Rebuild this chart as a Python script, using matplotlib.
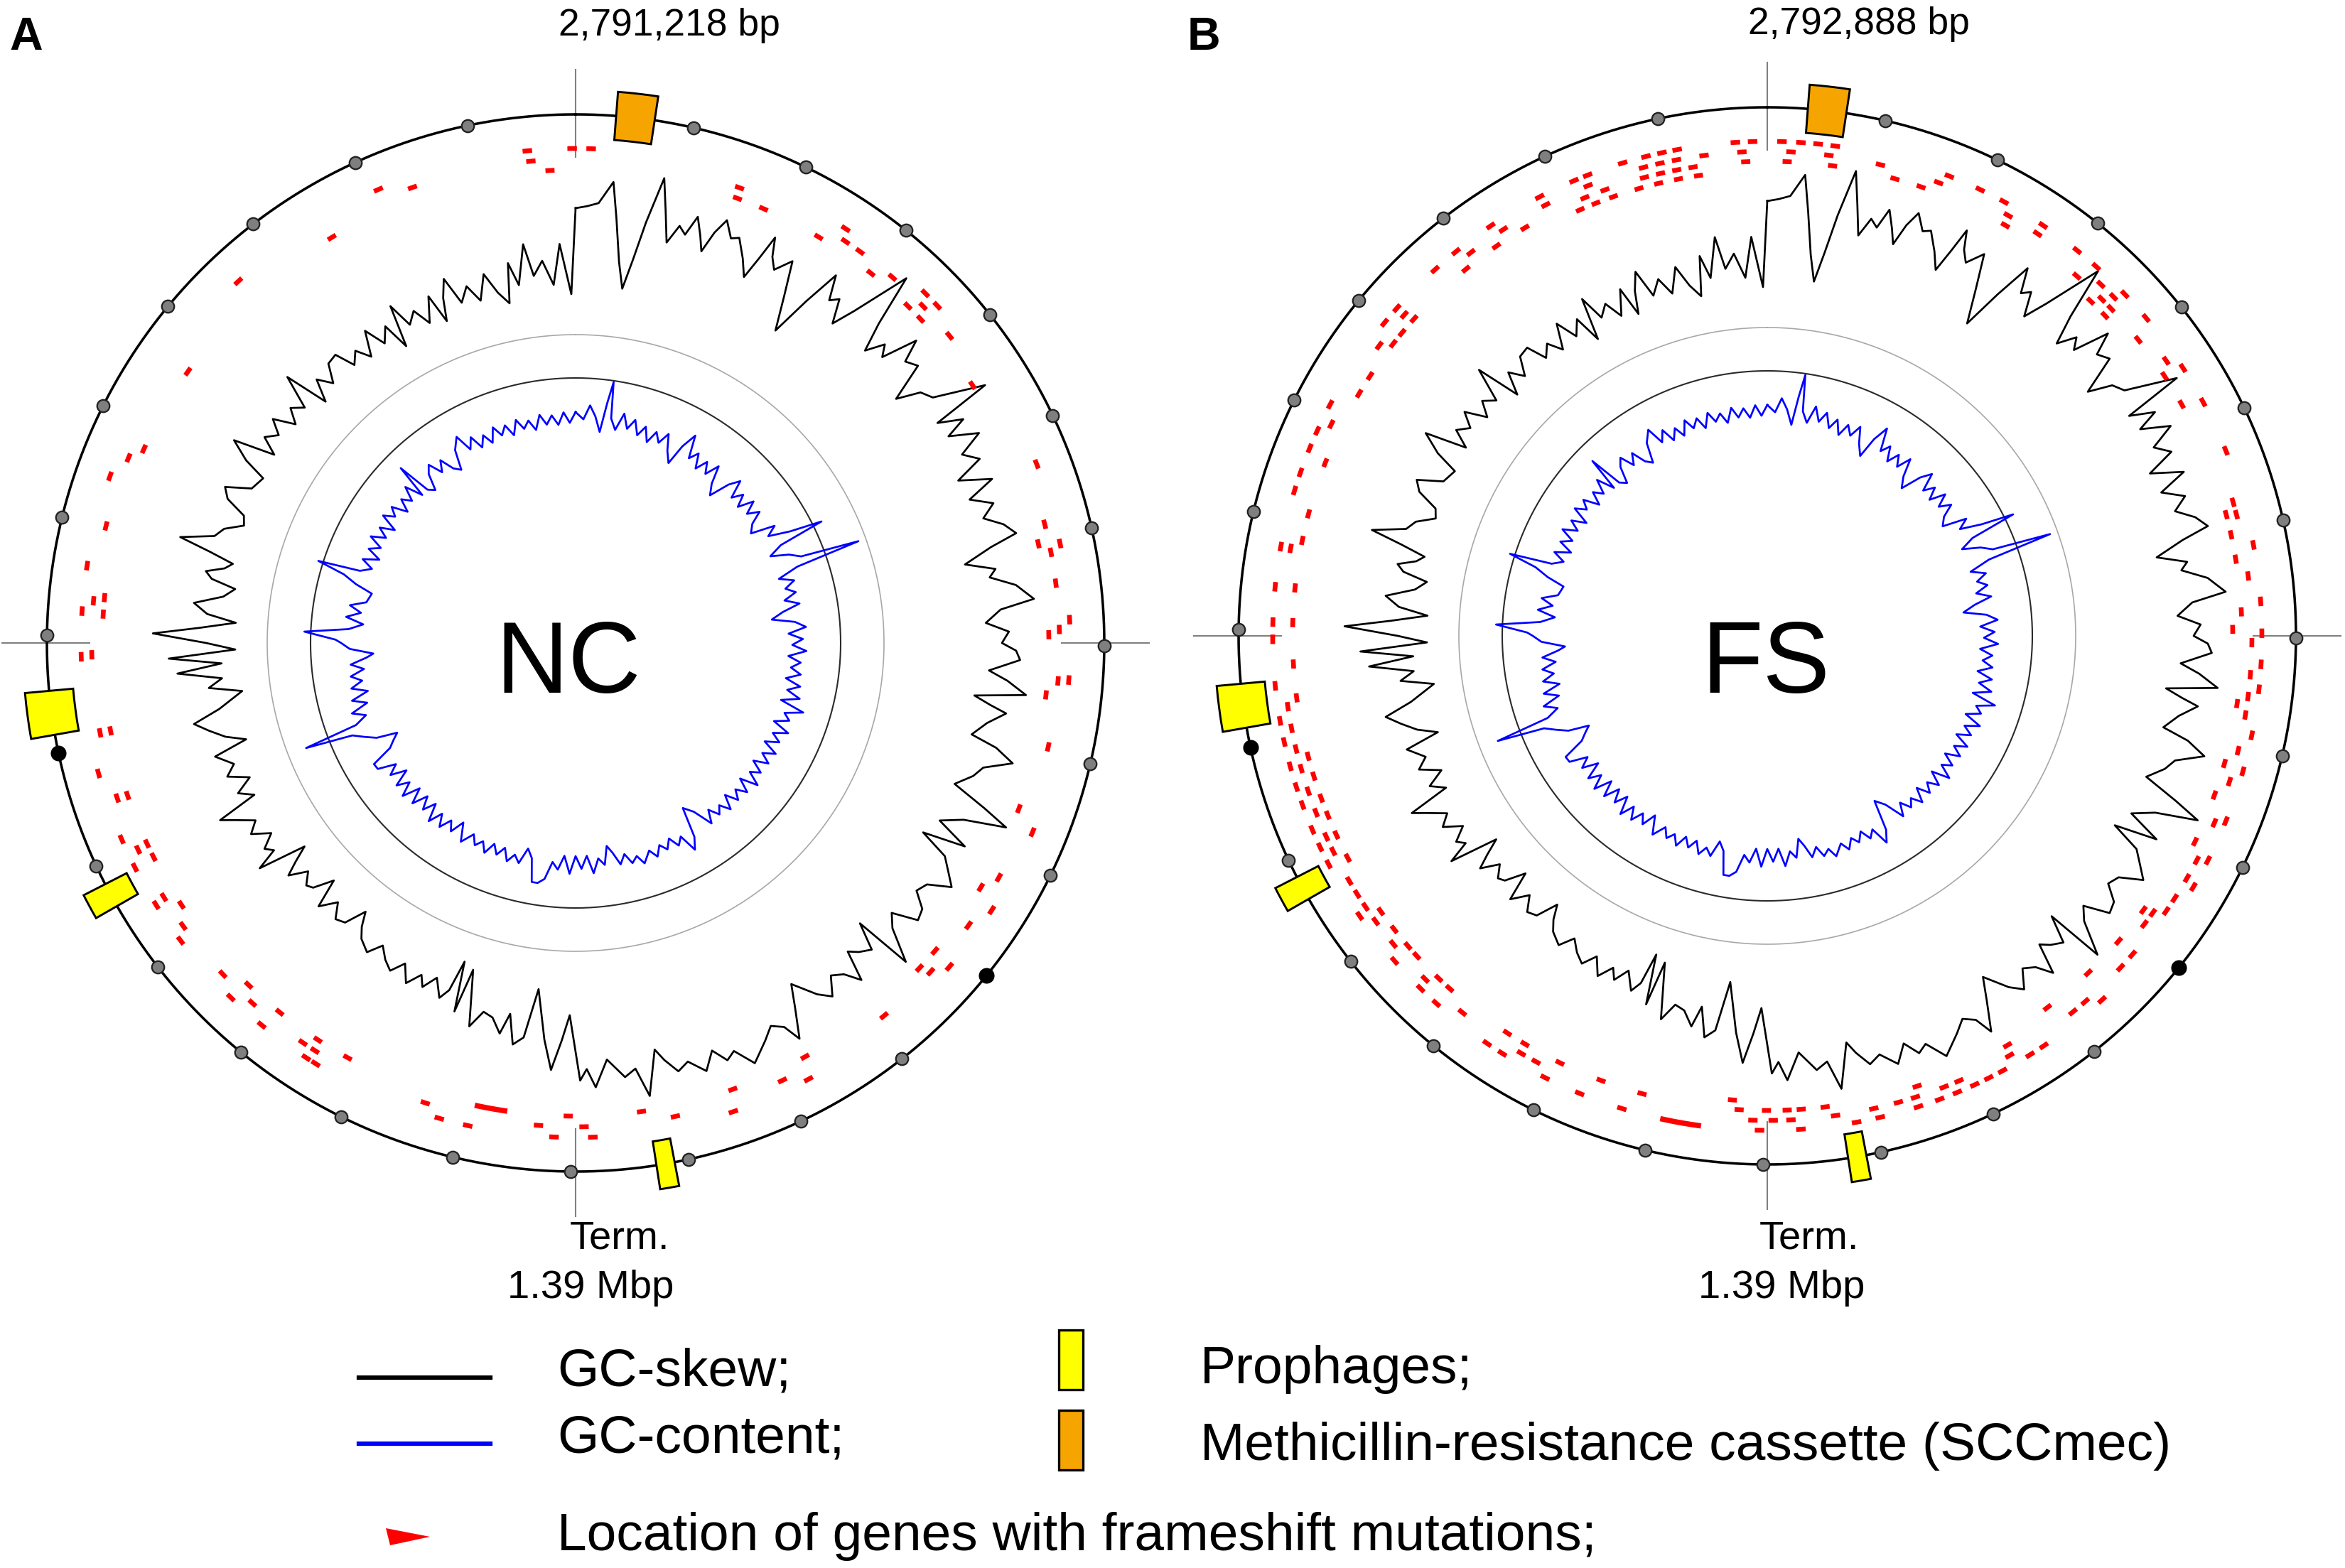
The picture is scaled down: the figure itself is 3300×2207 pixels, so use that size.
import numpy as np
import matplotlib.pyplot as plt
from matplotlib.patches import Rectangle, Polygon

plt.rcParams['font.family'] = ['Liberation Sans', 'DejaVu Sans']

W, H, DPI = 3300, 2207, 300

# genome sizes (kb) and the 100 kb tick marks, 1 Mb / 2 Mb drawn black
genome_A_kb = 2791.218
genome_B_kb = 2792.888
tick_step_kb = 100
major_ticks_kb = [1000, 2000]

# GC-skew: position (deg clockwise from top) and value (track units)
skew_deg = [0, 1.5, 3, 4.7, 5.5, 6.5, 7.5, 8.5, 9.5, 10.8,
            11.8, 12.8, 14, 15, 16, 17, 17.8, 18.7, 19.7, 21,
            22, 23.5, 24.7, 25.5, 26.2, 27, 28, 29.6, 31, 32.6,
            34, 35.3, 36.5, 37.5, 38.8, 40, 42.2, 43.5, 44.7, 46,
            47, 48.4, 49.5, 51, 52.7, 54, 55.5, 57.8, 58.7, 60,
            61, 62.5, 64, 65.5, 67, 68.5, 70, 71.5, 73, 74.5,
            76, 77, 78.6, 80, 81, 82.5, 84.5, 85.5, 87.2, 88.5,
            90, 91, 92.2, 93.8, 95, 96.6, 97.5, 98.5, 99.3, 101,
            103, 104, 105.4, 107, 108.5, 110.4, 112, 113.2, 114.5, 116,
            117.6, 118.6, 120, 121.5, 123, 124.5, 126, 127.5, 129, 130.5,
            132, 134, 134.6, 136, 137.5, 138.6, 139.7, 141, 142.5, 144,
            145.5, 147.7, 149, 150.5, 151.5, 153, 154.5, 156.9, 158.8, 160,
            161.5, 163, 165, 166.5, 168, 169, 170.7, 172, 173.5, 175.7,
            177.4, 178.5, 179.4, 180.9, 182, 183.3, 184.5, 186.1, 187.5, 188.9,
            190, 191, 192.5, 194, 195.5, 197.4, 198.2, 199.2, 200, 201,
            202.5, 204, 204.9, 206.5, 208, 209.5, 211, 212.5, 214, 215.9,
            217, 218, 219.5, 221, 222.5, 224.3, 225.5, 227, 228, 229.5,
            231, 232, 233.1, 234.5, 235.5, 236.5, 238, 239.5, 241, 242.5,
            243.5, 244.7, 246, 247.6, 249, 250.5, 252.5, 253.7, 255, 256.5,
            258, 259.5, 261.8, 263, 264.3, 265.6, 266.7, 267.8, 268.9, 270,
            271.3, 272.3, 273.4, 274.5, 276, 277.5, 279, 280, 281, 282,
            283, 284, 285, 286.5, 288, 289.5, 291, 292.5, 294, 295.5,
            297.8, 299, 300.7, 302, 303.5, 305, 306.5, 308, 309.5, 311,
            312.7, 314, 315.5, 317, 318.5, 320.2, 321.5, 323, 324.5, 326,
            327.5, 329, 330.3, 331.2, 332.5, 334, 335.5, 337, 338.2, 339,
            340.1, 341.5, 343, 344.5, 346, 347.5, 349, 349.9, 351, 352.5,
            353.5, 355, 356.5, 357.7, 359.3]
skew_val = [52, 55, 60, 91, 40, -20, -57, -15, 40, 106,
            60, 18, 45, 35, 64, 40, 19, 50, 72, 50,
            55, 30, 7, 40, 76, 50, 35, 58, 10, -38,
            20, 74, 40, 50, 17, 50, 133, 60, 19, 45,
            30, 81, 50, 60, 7, 40, 50, 121, 36, 70,
            40, 80, 45, 65, 25, 70, 30, 60, 40, 65,
            79, 40, -1, 40, 30, 65, 88, 40, 18, 50,
            40, 60, 66, 23, 50, 78, 6, 30, 54, 30,
            12, 50, 78, 40, 30, 9, 60, 99, 40, 10,
            58, -3, 40, 55, 71, 40, 33, 55, 60, 25,
            40, 86, 2, 40, 30, 19, 62, 40, 30, 55,
            40, 8, 40, 80, 55, 45, 60, 83, 56, 65,
            45, 70, 50, 60, 40, 23, 86, 45, 55, 28,
            66, 40, 56, -36, 0, 42, 0, -70, 0, 12,
            -30, 0, -20, -25, 0, -78, -14, -85, -40, -25,
            -50, -30, -45, -25, -49, -30, -40, -55, -35, -46,
            -60, -80, -50, -45, -65, -42, -83, -55, -50, -65,
            -40, -60, -83, -14, -45, -35, -55, -30, -45, -20,
            -1, -60, -40, -64, -35, -50, -28, -77, -50, -30,
            -11, -50, -86, -40, -60, 2, -61, 13, -81, -40,
            35, -30, -81, -40, -20, -60, -75, -40, -30, -55,
            -65, -30, 16, -30, -40, -65, -60, -30, -20, -55,
            -63, -30, -1, -60, -35, -50, -30, -60, -40, -55,
            -8, -71, -40, -60, -35, -32, -60, -45, -65, -30,
            -60, -40, -79, -19, -55, -40, -65, -30, -72, -40,
            -15, -55, -35, -60, -25, -55, -73, -17, -50, 6,
            -40, -20, -55, 2, -69]

# GC-content, same way
gc_deg = [0, 2, 3.5, 5, 6.5, 7.5, 8.3, 9, 10.5, 12,
          13.5, 15, 16.5, 18, 19.5, 21, 22.5, 24, 25.5, 27.3,
          28.5, 30, 31.5, 33, 34.5, 36, 37.5, 39, 40.5, 42.3,
          44, 45.5, 47, 48.5, 50, 51.5, 53, 54.5, 56, 58,
          59.5, 61, 62.5, 63.7, 64.5, 66, 67.5, 69, 70.2, 71,
          72.5, 74, 75.5, 77, 78.5, 80, 81.5, 83.2, 84.5, 86,
          87.5, 89, 90.5, 92, 93.5, 95, 96.5, 98, 99.5, 101,
          102.5, 104, 105.5, 107, 108.5, 110, 111.5, 113, 114.5, 116,
          117.5, 119, 120.5, 122, 123.5, 125, 126.5, 128, 129.5, 131,
          132.5, 134, 135.5, 137, 138.5, 140, 141.5, 143, 145, 147,
          148.5, 150, 151.5, 153, 154.5, 156, 157.5, 159, 160.5, 162.6,
          164, 165.5, 167, 168.5, 170, 171.3, 172.5, 174, 175.5, 177,
          178.5, 180, 181.5, 183, 184.5, 186, 187.5, 189, 190.4, 191.5,
          193, 194.5, 196, 197.5, 199, 200.5, 202, 203.5, 205, 206.5,
          208, 210, 212, 213.5, 215, 216.5, 218, 219.5, 221, 222.5,
          224, 225.5, 227, 228.5, 230, 231.5, 233, 234.5, 236, 237.5,
          239, 240.5, 242, 243.3, 244.5, 246, 247.5, 248.7, 249.5, 251,
          252.5, 254, 255.5, 257, 258.5, 260, 261.5, 263, 264.5, 266,
          267, 268.5, 270, 270.8, 272.4, 273.5, 275, 276.5, 278, 279.5,
          281, 283.6, 285, 286.5, 287.7, 288.5, 290, 291.5, 293, 294.5,
          296, 297.5, 299, 300.5, 302, 303.5, 305, 306.5, 308, 309.5,
          311, 312.5, 314, 315, 316, 317.5, 319, 320.5, 322, 323.5,
          325, 326.6, 328, 330, 331.5, 333, 334.5, 336, 337.5, 339,
          340.5, 342, 343.5, 345, 346.5, 348, 349.5, 351, 352.5, 354,
          355.5, 357, 358.5]
gc_val = [15, 5, 25, 10, -11, 30, 61, 10, -5, 20,
          0, 15, -5, 10, -10, 8, -5, 12, -10, -25,
          5, 27, -5, 8, -12, 5, -10, 10, -15, -29,
          0, 15, -10, 5, -12, 10, -8, 8, -10, -19,
          15, 0, 30, 76, 10, -10, 15, 30, 113, 20,
          -10, 10, -5, 8, -10, 10, -15, -32, 0, 15,
          -10, 10, -5, 15, -10, 8, -5, 10, -10, 12,
          -5, 15, -10, 25, 0, 10, -10, 15, -5, 9,
          -10, 12, -5, 10, -10, 8, -5, 15, -10, 10,
          -5, 8, -10, 10, -5, 5, -10, 8, -20, -33,
          10, 26, 0, 10, -5, 8, -2, 12, 0, 15,
          2, 10, -5, 8, -10, -21, 5, -5, 15, -10,
          8, -10, 15, -10, 10, 0, 25, 32, 32, -1,
          -13, 10, 0, 12, -5, 8, -5, 12, -2, 8,
          -5, 13, -12, 8, -5, 12, -5, 15, -10, 8,
          -10, 12, -10, 15, -5, 12, -12, 10, -5, 20,
          21, -10, -20, -29, 0, 15, 30, 97, 20, 2,
          20, -5, 15, -10, 12, -5, 10, -10, 8, -15,
          -25, 8, 20, 28, 72, 10, -10, 15, -5, 12,
          -10, -15, 10, 30, 70, 10, -5, 12, -10, 10,
          -5, 15, -5, 10, -10, 15, 0, 12, -10, 8,
          -5, 15, -10, 38, -10, -18, 5, 15, -5, 10,
          -10, -18, 10, 25, 0, 15, -5, 10, -5, 15,
          0, 12, -5, 15, 0, 10, -5, 15, 0, 12,
          -2, 15, 0]

# SCCmec cassette and prophages: centre (deg) and angular span (deg)
sccmec_deg, sccmec_span = 6.5, 4.2
prophage_deg = [262.4, 241.5, 170.2]
prophage_span = [4.8, 2.7, 2.0]

# genes with frameshift mutations (deg), one list per ring, outer ring first
fsA_ring0 = [1.8, 33.1, 45, 47, 68.8, 78.4, 87.3, 94.3, 112.5, 122.7, 130.9, 151.9,
             161.4, 178, 182.5, 192.6, 196, 211.7, 213, 219.4, 224.2, 233, 238, 243,
             246.6, 254.7, 268.4, 273.7, 279, 289.7, 317, 336.5, 354.4, 359.6]
fsA_ring1 = [19.8, 33.9, 36, 40.9, 45.9, 50.6, 75.8, 79.2, 82.9, 88.4, 94.5, 102.4,
             119, 125.7, 132.8, 140.4, 154.7, 168.1, 179, 184.4, 198.1, 212.6, 214.3,
             221.9, 226.8, 234.2, 238.3, 244.7, 251.3, 259.3, 268.6, 275, 284, 292.5,
             340.3, 354.7]
fsA_ring2 = [20, 23.4, 30.9, 38.6, 44.6, 46.8, 57, 77.9, 89, 96.3, 110.5, 121.1,
             130.6, 133.4, 151, 160.6, 172, 180.9, 208.8, 213, 218.7, 223.7, 236.4,
             243.1, 244.9, 251.2, 259.3, 273.5, 275.5, 294.2, 305, 329, 356.9]
fsA_long = (188.3, 192.3, 2)

fsB_ring0 = [1.7, 3.9, 5.9, 7.9, 21.6, 25.5, 28.6, 33.9, 38.8, 41.7, 46.3, 50, 57.2,
             61.8, 68, 79.4, 86, 89.7, 93.3, 96.2, 101.6, 105.9, 112, 117, 120.5, 137.4,
             146, 147.9, 151.6, 153.4, 155.2, 157.4, 159.6, 162.2, 166.8, 169.6, 176.1,
             180.9, 197.1, 202.3, 206.7, 212.4, 214.5, 222, 224.5, 228.9, 235.5, 242.5,
             244.7, 246.9, 250, 252.2, 254.7, 257.6, 260.1, 264.2, 269.6, 271.6, 275.7,
             280.4, 287.1, 289.3, 292.3, 294.5, 297.9, 309.3, 311.5, 317.8, 321, 326,
             332.6, 337, 338.7, 343, 345.8, 347.7, 349.5, 356.3, 358.3]
fsB_ring1 = [2.8, 7.3, 13.5, 20.7, 29.8, 33.9, 43.5, 45.6, 55.4, 74, 75.5, 82.9, 90.8,
             94.6, 97.2, 99.4, 103.7, 107.5, 112.7, 117.6, 120, 122.8, 124.6, 131.1,
             133.2, 139, 140.9, 150, 156.7, 158.6, 162.2, 164.3, 167.3, 171.9, 177.2,
             179.3, 181.7, 208.5, 210.5, 219, 224.9, 230.5, 233.9, 236, 237.8, 239.6,
             243.6, 245.5, 248.6, 251.3, 254.1, 256.5, 259, 261.6, 280.4, 295.9, 306.8,
             311.5, 322.3, 327, 332.8, 338.3, 345.2, 347.2, 349.2, 352.5, 357]
fsB_ring2 = [2.4, 7.9, 15.6, 18.9, 30.1, 40.7, 44.8, 46.4, 51.4, 56.8, 60.8, 75.2,
             77.7, 80.7, 87.1, 98.2, 105.6, 109.6, 115.7, 125.7, 127.4, 149.6, 161.6,
             173, 175.9, 177.6, 180.1, 183.4, 195.3, 200.5, 205.9, 210.7, 213.2, 222,
             223.8, 227.6, 229.2, 231.8, 234.5, 242.1, 245.2, 247.8, 250, 252.8, 255.3,
             262.5, 266.6, 271.6, 275.8, 281.6, 284.9, 291.4, 300.7, 303.2, 308, 309.7,
             311.9, 320.6, 325.2, 329.3, 337.4, 340, 345, 347, 349, 351, 357.4]
fsB_ring3 = [44, 46.5, 89.2, 126.1, 131, 136.4, 143, 184.3, 336.3, 338.4, 340.7,
             344, 346.5, 349, 351.5]
fsB_long = (187.7, 192.5, 0)

# ---- geometry (pixels) ----
R_AX = 815
R_OUT = 744
R_GRAY = 434
R_INNER = 373
SKEW_BASE = 560
GC_BASE = 310
BOX_BOTTOM, BOX_H = 710, 68
ORANGE = '#f6a500'

fig = plt.figure(figsize=(W / DPI, H / DPI), dpi=DPI)
ax0 = fig.add_axes([0, 0, 1, 1])
ax0.set_xlim(0, W)
ax0.set_ylim(H, 0)
ax0.axis('off')


def polar_panel(cx, cy):
    ax = fig.add_axes([(cx - R_AX) / W, (H - cy - R_AX) / H, 2 * R_AX / W, 2 * R_AX / H],
                      projection='polar')
    ax.set_theta_zero_location('N')
    ax.set_theta_direction(-1)
    ax.set_ylim(0, R_AX)
    ax.axis('off')
    return ax


def draw_panel(ax, genome_kb, rings, ring_r, long_mark):
    full = np.linspace(0, 2 * np.pi, 1441)
    ax.plot(full, np.full_like(full, R_OUT), color='black', lw=0.85, zorder=3)
    ax.plot(full, np.full_like(full, R_GRAY), color='#a8a8a8', lw=0.4)
    ax.plot(full, np.full_like(full, R_INNER), color='#2a2a2a', lw=0.5)

    th = np.deg2rad(skew_deg + [360])
    ax.plot(th, SKEW_BASE + np.array(skew_val + skew_val[:1]), color='black', lw=0.65,
            zorder=2)
    th = np.deg2rad(gc_deg + [360])
    ax.plot(th, GC_BASE + np.array(gc_val + gc_val[:1]), color='#0000ff', lw=0.65,
            zorder=2)

    for a in [0, 90, 180, 270]:
        ax.plot([np.deg2rad(a)] * 2, [684, 807], color='#808080', lw=0.5, zorder=1)

    for ring, r in zip(rings, ring_r):
        for a in ring:
            t = np.deg2rad(np.linspace(a - 0.55, a + 0.55, 4))
            ax.plot(t, np.full(4, r), color='#ff0000', lw=1.6,
                    solid_capstyle='butt', zorder=4)
    a0, a1, k = long_mark
    t = np.deg2rad(np.linspace(a0, a1, 8))
    ax.plot(t, np.full(8, ring_r[k]), color='#ff0000', lw=1.8,
            solid_capstyle='butt', zorder=4)

    ax.bar(np.deg2rad(prophage_deg), BOX_H, width=np.deg2rad(prophage_span),
           bottom=BOX_BOTTOM, color='#ffff00', edgecolor='black', lw=0.7, zorder=5)
    ax.bar(np.deg2rad(sccmec_deg), BOX_H, width=np.deg2rad(sccmec_span),
           bottom=BOX_BOTTOM, color=ORANGE, edgecolor='black', lw=0.7, zorder=5)

    kb = np.arange(tick_step_kb, genome_kb, tick_step_kb)
    th = kb / genome_kb * 2 * np.pi
    major = np.isin(kb, major_ticks_kb)
    ax.plot(th[~major], np.full((~major).sum(), R_OUT), 'o', ms=4.2,
            mfc='#7f7f7f', mec='#222222', mew=0.55, zorder=6)
    ax.plot(th[major], np.full(major.sum(), R_OUT), 'o', ms=4.8,
            mfc='black', mec='black', mew=0.5, zorder=6)


axA = polar_panel(810, 905)
draw_panel(axA, genome_A_kb, [fsA_ring0, fsA_ring1, fsA_ring2], [696, 681, 666], fsA_long)
axB = polar_panel(2487, 895)
draw_panel(axB, genome_B_kb, [fsB_ring0, fsB_ring1, fsB_ring2, fsB_ring3],
           [696, 682, 668, 655], fsB_long)

# panel texts
ax0.text(13, 70, 'A', fontsize=15.5, fontweight='bold', va='baseline', ha='left')
ax0.text(1671, 70, 'B', fontsize=15.5, fontweight='bold', va='baseline', ha='left')
ax0.text(942, 50, '2,791,218 bp', fontsize=12.8, ha='center', va='baseline')
ax0.text(2616, 48, '2,792,888 bp', fontsize=12.8, ha='center', va='baseline')
ax0.text(802, 1757, 'Term.', fontsize=13.5, ha='left', va='baseline')
ax0.text(831, 1827, '1.39 Mbp', fontsize=13.5, ha='center', va='baseline')
ax0.text(2476, 1757, 'Term.', fontsize=13.5, ha='left', va='baseline')
ax0.text(2507, 1827, '1.39 Mbp', fontsize=13.5, ha='center', va='baseline')
ax0.text(800, 975, 'NC', fontsize=34, ha='center', va='baseline')
ax0.text(2485, 975, 'FS', fontsize=34, ha='center', va='baseline')

# legend
ax0.plot([505, 690], [1939, 1939], color='black', lw=1.5)
ax0.plot([505, 690], [2032, 2032], color='#0000ff', lw=1.5)
ax0.add_patch(Rectangle((1490, 1872), 34, 84, facecolor='#ffff00', edgecolor='black', lw=0.8))
ax0.add_patch(Rectangle((1490, 1985), 34, 84, facecolor=ORANGE, edgecolor='black', lw=0.8))
ax0.add_patch(Polygon([(543, 2151), (605, 2163), (549, 2175)], closed=True,
                      facecolor='#ff0000', edgecolor='none'))
ax0.text(784, 1951, 'GC-skew;', fontsize=18, va='baseline')
ax0.text(784, 2045, 'GC-content;', fontsize=18, va='baseline')
ax0.text(1689, 1947, 'Prophages;', fontsize=18, va='baseline')
ax0.text(1689, 2055, 'Methicillin-resistance cassette (SCCmec)', fontsize=18, va='baseline')
ax0.text(784, 2182, 'Location of genes with frameshift mutations;', fontsize=18,
         va='baseline')

fig.savefig('out.png', dpi=DPI)
